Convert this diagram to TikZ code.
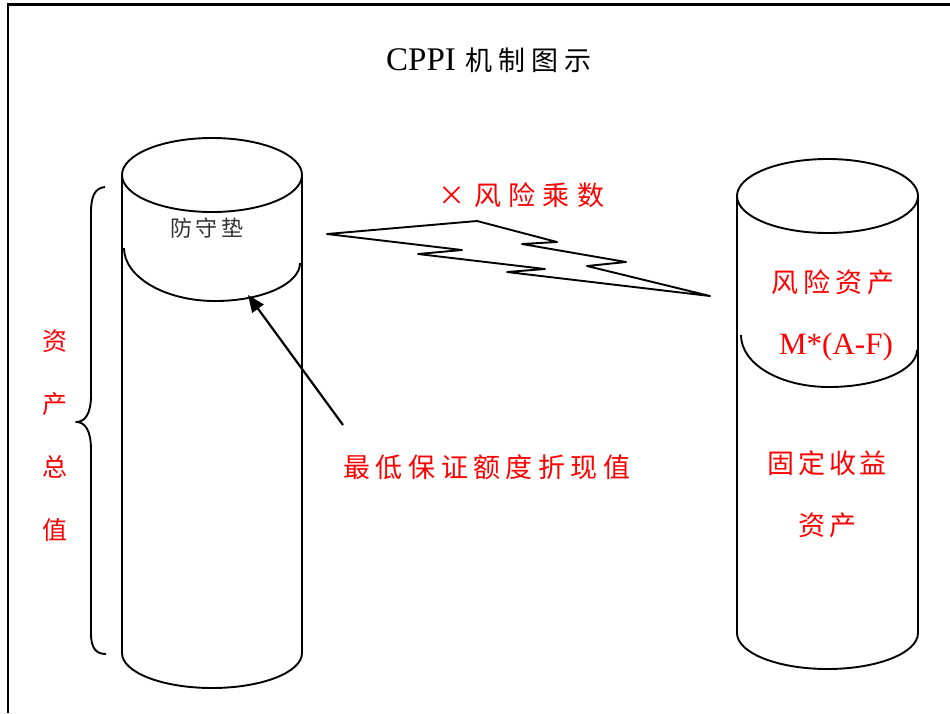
\documentclass[tikz,border=0pt]{standalone}
\usepackage{fontspec}
\setmainfont{Liberation Serif}
\newfontfamily\cjk{Noto Sans CJK SC}
\usetikzlibrary{arrows.meta}
\makeatletter
\def\spreadtext#1#2{\def\spr@gap{#1}\spr@i#2\relax}
\def\spr@i#1{\ifx#1\relax\else #1\expandafter\spr@ii\fi}
\def\spr@ii#1{\ifx#1\relax\else\hspace{\spr@gap}#1\expandafter\spr@ii\fi}
\makeatother
\begin{document}
\begin{tikzpicture}[x=1pt,y=-1pt,
  shape line/.style={line width=1.9pt, line join=round},
  redcjk/.style={text=red, inner sep=0pt, font=\cjk\fontsize{27}{27}\selectfont},
  latin/.style={inner sep=0pt, font=\fontsize{31}{31}\selectfont}]
\useasboundingbox (0,0) rectangle (950,713);
% frame
\draw[line width=3pt] (7,4) -- (950,4);
\draw[line width=1.8pt] (8,4) -- (8,713);

% left cylinder
\draw[shape line] (212,175) ellipse[x radius=90pt, y radius=37pt];
\draw[shape line] (122,175) -- (122,653) arc[start angle=180,end angle=360,x radius=90pt,y radius=35pt] -- (302,175);
\draw[shape line] (124,248) .. controls (124,277) and (165,301) .. (215,301)
                  .. controls (262,301) and (300,284) .. (300,263);

% right cylinder
\draw[shape line] (827.5,196) ellipse[x radius=90.5pt, y radius=37pt];
\draw[shape line] (737,196) -- (737,633) arc[start angle=180,end angle=360,x radius=90.5pt,y radius=36pt] -- (918,196);
\draw[shape line] (741,335) .. controls (741,364) and (780,387) .. (829,387)
                  .. controls (878,387) and (917,370) .. (917,350);

% lightning
\draw[shape line] (327,234) -- (477,221) -- (557,242) -- (522,244) -- (626,262) -- (587,266)
  -- (710,296) -- (507,272) -- (545,269) -- (418,254) -- (462,250) -- cycle;

% brace
\draw[shape line] (105,187) .. controls (95,188) and (91,196) .. (91,212) -- (91,395)
  .. controls (91,414) and (85,422) .. (76,422)
  .. controls (85,422) and (91,430) .. (91,450) -- (91,634)
  .. controls (91,648) and (96,654) .. (106,654);

% arrow
\coordinate (arrowfrom) at (343,425);
\coordinate (arrowto) at (248,295);
\draw[line width=2.2pt, -{Triangle[length=17pt,width=14pt]}] (arrowfrom) -- (arrowto);

% texts
\node[inner sep=0pt] (title) at (489,60)
  {{\fontsize{33}{33}\selectfont CPPI}\hspace{10pt}{\cjk\fontsize{27}{27}\selectfont\spreadtext{6pt}{机制图示}}};
\node[inner sep=0pt, text=black!80, font=\cjk\fontsize{22}{22}\selectfont] (cushion) at (207,228) {\spreadtext{4pt}{防守垫}};
\node[redcjk] (mult) at (521,195) {×\hspace{10pt}\spreadtext{7pt}{风险乘数}};
\node[redcjk] (riskasset) at (833,282) {\spreadtext{5pt}{风险资产}};
\node[latin, text=red] (formula) at (836,347) {M*(A-F)};
\node[redcjk] (floor) at (487,467) {\spreadtext{5.5pt}{最低保证额度折现值}};
\node[redcjk] (fixed1) at (827,463) {\spreadtext{4pt}{固定收益}};
\node[redcjk] (fixed2) at (827,525) {\spreadtext{4pt}{资产}};
\node[redcjk, font=\cjk\fontsize{25}{63}\selectfont, align=center] (total) at (55,436) {资\\产\\总\\值};
\end{tikzpicture}
\end{document}
